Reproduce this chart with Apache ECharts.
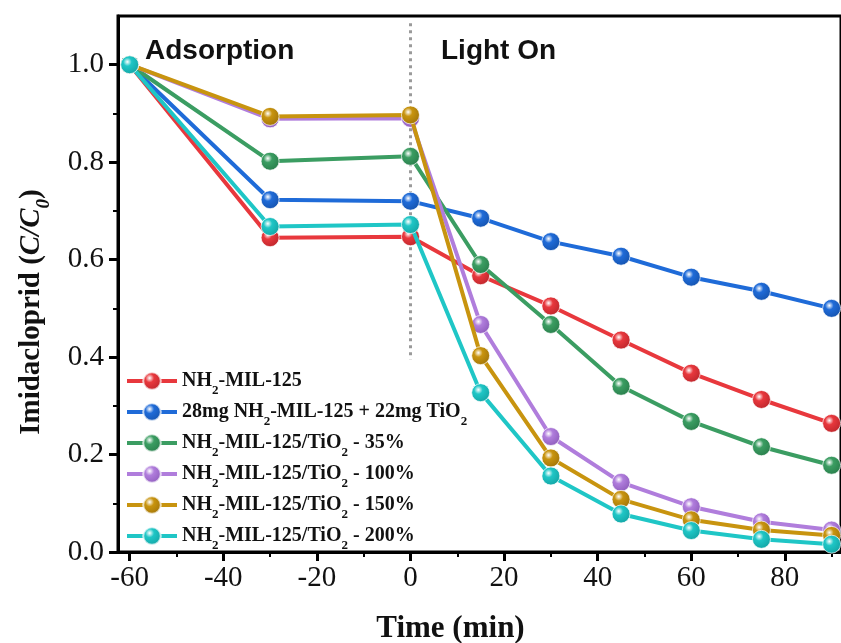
<!DOCTYPE html>
<html>
<head>
<meta charset="utf-8">
<script src="https://cdn.jsdelivr.net/npm/echarts@6/dist/echarts.min.js"></script>
<style>
  html, body { margin: 0; padding: 0; background: #fff; }
  #chart { width: 841px; height: 643px; }
</style>
</head>
<body>
<div id="chart"></div>
<script>
// time points (min)
const times = [-60, -30, 0, 15, 30, 45, 60, 75, 90];

// C/C0
const mil125 = [1.0, 0.645, 0.647, 0.567, 0.505, 0.435, 0.367, 0.313, 0.264];
const mixTiO2 = [1.0, 0.723, 0.720, 0.685, 0.637, 0.607, 0.564, 0.535, 0.500];
const comp35 = [1.0, 0.802, 0.812, 0.590, 0.467, 0.340, 0.268, 0.216, 0.178];
const comp100 = [1.0, 0.889, 0.890, 0.467, 0.237, 0.143, 0.093, 0.062, 0.045];
const comp150 = [1.0, 0.894, 0.897, 0.403, 0.193, 0.108, 0.066, 0.045, 0.034];
const comp200 = [1.0, 0.668, 0.672, 0.327, 0.156, 0.078, 0.044, 0.026, 0.016];

const seriesNames = ['NH2-MIL-125', '28mg NH2-MIL-125 + 22mg TiO2', 'NH2-MIL-125/TiO2 - 35%',
  'NH2-MIL-125/TiO2 - 100%', 'NH2-MIL-125/TiO2 - 150%', 'NH2-MIL-125/TiO2 - 200%'];
const legendLabels = [
  'NH{s|2}-MIL-125',
  '28mg NH{s|2}-MIL-125 + 22mg TiO{s|2}',
  'NH{s|2}-MIL-125/TiO{s|2} - 35%',
  'NH{s|2}-MIL-125/TiO{s|2} - 100%',
  'NH{s|2}-MIL-125/TiO{s|2} - 150%',
  'NH{s|2}-MIL-125/TiO{s|2} - 200%'
];
const seriesData = [mil125, mixTiO2, comp35, comp100, comp150, comp200];
const colors = ['#e8383d', '#1f6bd8', '#3b9d62', '#b07ddc', '#c8940f', '#1fc6c6'];
const darkColors = ['#b8242a', '#1450a8', '#277a48', '#8a58b8', '#9c7008', '#12a0a0'];

const xTicks = [-60, -40, -20, 0, 20, 40, 60, 80];
const xMinor = [-50, -30, -10, 10, 30, 50, 70, 90];
const yTicks = [0, 0.2, 0.4, 0.6, 0.8, 1.0];
const yMinor = [0.1, 0.3, 0.5, 0.7, 0.9];

const serif = '"Liberation Serif", "Times New Roman", serif';

function ball(i) {
  return {
    type: 'radial', x: 0.38, y: 0.35, r: 0.75,
    colorStops: [
      { offset: 0, color: '#ffffff' },
      { offset: 0.3, color: colors[i] },
      { offset: 1, color: darkColors[i] }
    ]
  };
}

const series = seriesData.map((vals, i) => ({
  name: seriesNames[i],
  type: 'line',
  data: times.map((t, k) => [t, vals[k]]),
  color: colors[i],
  symbol: 'circle',
  symbolSize: 18,
  lineStyle: { width: 4, color: colors[i] },
  itemStyle: { color: ball(i), borderColor: 'rgba(255,255,255,0.7)', borderWidth: 1 },
  emphasis: { disabled: true },
  z: 3 + i
}));

// dotted divider at t = 0
series[0].markLine = {
  silent: true,
  symbol: 'none',
  z: 2,
  label: { show: false },
  lineStyle: { color: '#9a9a9a', type: [3, 4], width: 3 },
  data: [[{ coord: [0, 1.085] }, { coord: [0, 0.395] }]]
};

const chart = echarts.init(document.getElementById('chart'));
chart.setOption({
  animation: false,
  backgroundColor: '#fff',
  grid: {
    left: 118, right: 0, top: 16, bottom: 91,
    outerBoundsMode: 'none', containLabel: false,
    show: true, borderColor: '#000', borderWidth: 3
  },
  legend: {
    orient: 'vertical',
    left: 120,
    top: 366,
    itemWidth: 50,
    itemHeight: 22,
    itemGap: 5,
    data: seriesNames,
    lineStyle: { width: 4 },
    formatter: (name) => legendLabels[seriesNames.indexOf(name)],
    textStyle: {
      fontFamily: serif, fontWeight: 'bold', fontSize: 20, color: '#111', lineHeight: 20,
      rich: {
        s: { fontFamily: serif, fontWeight: 'bold', fontSize: 13, verticalAlign: 'bottom', lineHeight: 12, padding: [0, 0, -6, 0] }
      }
    }
  },
  xAxis: [{
    type: 'value',
    min: -62.5,
    max: 92,
    name: 'Time (min)',
    nameLocation: 'middle',
    nameGap: 61,
    nameTextStyle: { fontFamily: serif, fontWeight: 'bold', fontSize: 31, color: '#111', padding: [0, 58, 0, 0] },
    axisLine: { show: true, onZero: false, lineStyle: { color: '#000', width: 3 } },
    axisTick: { show: true, inside: false, length: 9, lineStyle: { width: 3, color: '#000' }, customValues: xTicks },
    axisLabel: { customValues: xTicks, margin: 12, fontFamily: serif, fontSize: 29, color: '#111' },
    splitLine: { show: false }
  }, {
    type: 'value',
    min: -62.5,
    max: 92,
    position: 'bottom',
    axisLine: { show: false, onZero: false },
    axisTick: { show: true, inside: false, length: 5, lineStyle: { width: 2, color: '#000' }, customValues: xMinor },
    axisLabel: { show: false },
    splitLine: { show: false }
  }],
  yAxis: [{
    type: 'value',
    min: 0,
    max: 1.1,
    name: 'Imidacloprid ({i|C/C}{is|0})',
    nameLocation: 'middle',
    nameGap: 72,
    nameTextStyle: {
      fontFamily: serif, fontWeight: 'bold', fontSize: 29, color: '#111', padding: [0, 56, 0, 0],
      rich: {
        i: { fontFamily: serif, fontWeight: 'bold', fontStyle: 'italic', fontSize: 29, color: '#111' },
        is: { fontFamily: serif, fontWeight: 'bold', fontStyle: 'italic', fontSize: 19, color: '#111', verticalAlign: 'bottom', padding: [0, 0, -8, 0] }
      }
    },
    axisLine: { show: true, onZero: false, lineStyle: { color: '#000', width: 3 } },
    axisTick: { show: true, inside: false, length: 9, lineStyle: { width: 3, color: '#000' }, customValues: yTicks },
    axisLabel: { customValues: yTicks, margin: 14, fontFamily: serif, fontSize: 29, color: '#111', formatter: (v) => v.toFixed(1) },
    splitLine: { show: false }
  }, {
    type: 'value',
    min: 0,
    max: 1.1,
    position: 'left',
    axisLine: { show: false, onZero: false },
    axisTick: { show: true, inside: false, length: 5, lineStyle: { width: 2, color: '#000' }, customValues: yMinor },
    axisLabel: { show: false },
    splitLine: { show: false }
  }],
  graphic: [
    { type: 'text', left: 145, top: 37, style: { text: 'Adsorption', font: 'bold 28px "Liberation Sans", Arial, sans-serif', fill: '#111' } },
    { type: 'text', left: 441, top: 37, style: { text: 'Light On', font: 'bold 28px "Liberation Sans", Arial, sans-serif', fill: '#111' } }
  ],
  series: series
});
</script>
</body>
</html>
